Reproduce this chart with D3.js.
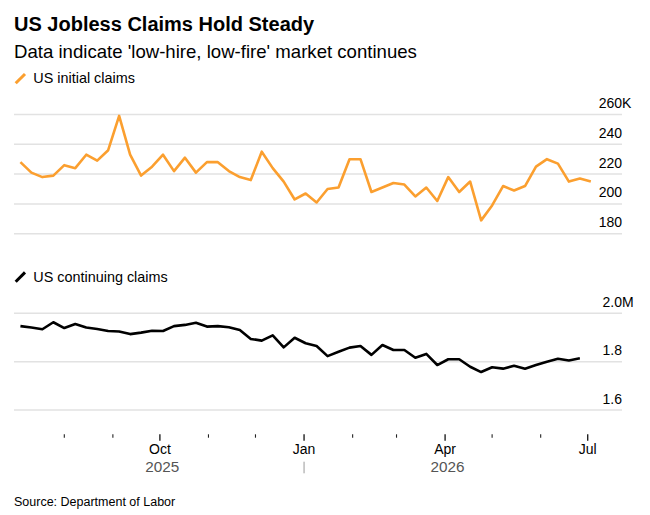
<!DOCTYPE html>
<html>
<head>
<meta charset="utf-8">
<script src="https://cdn.jsdelivr.net/npm/d3@7"></script>
<style>
	body { margin: 0; background: #fff; }
	svg { display: block; font-family: "Liberation Sans", Arial, sans-serif; }
</style>
</head>
<body>
<svg id="chart" width="650" height="515" viewBox="0 0 650 515"></svg>
<script>

// week dates (both series start together, continuing claims lag one week)
const WEEKS = [
	'2025-07-04', '2025-07-11', '2025-07-18', '2025-07-25', '2025-08-01', '2025-08-08', '2025-08-15',
	'2025-08-22', '2025-08-29', '2025-09-05', '2025-09-12', '2025-09-19', '2025-09-26', '2025-10-03',
	'2025-10-10', '2025-10-17', '2025-10-24', '2025-10-31', '2025-11-07', '2025-11-14', '2025-11-21',
	'2025-11-28', '2025-12-05', '2025-12-12', '2025-12-19', '2025-12-26', '2026-01-02', '2026-01-09',
	'2026-01-16', '2026-01-23', '2026-01-30', '2026-02-06', '2026-02-13', '2026-02-20', '2026-02-27',
	'2026-03-06', '2026-03-13', '2026-03-20', '2026-03-27', '2026-04-03', '2026-04-10', '2026-04-17',
	'2026-04-24', '2026-05-01', '2026-05-08', '2026-05-15', '2026-05-22', '2026-05-29', '2026-06-05',
	'2026-06-12', '2026-06-19', '2026-06-26', '2026-07-03'
];

// thousands
const INITIAL_CLAIMS = [
	228, 221, 218, 219, 226, 224, 233, 229, 236, 259,
	233, 219, 225, 233, 222, 231, 221, 228, 228, 222,
	218, 216, 235, 224, 215, 203, 207, 201, 210, 211,
	230, 230, 208, 211, 214, 213, 205, 211, 202, 218,
	208, 215, 189, 199, 212, 209, 212, 225, 230, 227,
	215, 217, 215
];

// millions
const CONTINUING_CLAIMS = [
	1.947, 1.941, 1.934, 1.963, 1.939, 1.956, 1.941, 1.935, 1.927, 1.925,
	1.914, 1.920, 1.928, 1.927, 1.947, 1.952, 1.961, 1.945, 1.947, 1.942,
	1.931, 1.894, 1.887, 1.909, 1.859, 1.899, 1.876, 1.865, 1.823, 1.841,
	1.858, 1.865, 1.828, 1.869, 1.848, 1.848, 1.816, 1.832, 1.786, 1.810,
	1.810, 1.779, 1.757, 1.777, 1.771, 1.783, 1.771, 1.786, 1.800, 1.812,
	1.805, 1.814
];

const INITIAL_TICKS = [180, 200, 220, 240, 260];
const CONTINUING_TICKS = [1.6, 1.8, 2.0];
const MAJOR_MONTHS = ['Oct', 'Jan', 'Apr', 'Jul'];
const YEARS = [2025, 2026];

const ORANGE = '#fb9f2f';
const GRID = '#e2e2e2';

const parse = d3.timeParse('%Y-%m-%d');
const dates = WEEKS.map(parse);

const svg = d3.select('#chart');

const x = d3.scaleTime()
	.domain([new Date(2025, 7, 1), new Date(2026, 6, 1)])
	.range([64.3, 587.7]);

const grid_left = 14, grid_right = 622;

// headings
svg.append('text')
	.attr('x', 14).attr('y', 30.7)
	.style('font-size', '20px').style('font-weight', 'bold')
	.text('US Jobless Claims Hold Steady');

svg.append('text')
	.attr('x', 14).attr('y', 58.3)
	.style('font-size', '18.6px')
	.text("Data indicate 'low-hire, low-fire' market continues");

function legend(y, color, label) {
	svg.append('line')
		.attr('x1', 15.7).attr('y1', y)
		.attr('x2', 25).attr('y2', y - 9.3)
		.attr('stroke', color).attr('stroke-width', 3);
	svg.append('text')
		.attr('x', 33.3).attr('y', y)
		.style('font-size', '14.4px')
		.text(label);
}

function panel(values, ticks, y_range, color, suffix, fmt) {
	const y = d3.scaleLinear()
		.domain([ticks[0], ticks[ticks.length - 1]])
		.range(y_range);

	const g = svg.append('g');

	g.selectAll('.grid')
		.data(ticks)
		.enter()
		.append('line')
			.attr('x1', grid_left).attr('x2', grid_right)
			.attr('y1', d => y(d)).attr('y2', d => y(d))
			.attr('stroke', GRID).attr('stroke-width', 1.5);

	const labels = g.selectAll('.ylab')
		.data(ticks)
		.enter()
		.append('text')
			.attr('x', grid_right)
			.attr('y', d => y(d) - 6.5)
			.attr('text-anchor', 'end')
			.style('font-size', '14px')
			.text(d => fmt(d));

	// the unit hangs past the right edge on the top label
	g.append('text')
		.attr('x', grid_right)
		.attr('y', y(ticks[ticks.length - 1]) - 6.5)
		.style('font-size', '14px')
		.text(suffix);

	const line = d3.line()
		.x((d, i) => x(dates[i]))
		.y(d => y(d));

	g.append('path')
		.datum(values)
		.attr('d', line)
		.attr('fill', 'none')
		.attr('stroke', color)
		.attr('stroke-width', 2.6)
		.attr('stroke-linejoin', 'round');
}

legend(83.3, ORANGE, 'US initial claims');
panel(INITIAL_CLAIMS, INITIAL_TICKS, [233.8, 114.4], ORANGE, 'K', d => d);

legend(281.7, '#000', 'US continuing claims');
panel(CONTINUING_CLAIMS, CONTINUING_TICKS, [410, 313.3], '#000', 'M', d => d.toFixed(1));

// x axis
const months = d3.timeMonth.range(new Date(2025, 7, 1), new Date(2026, 6, 2));
const month_name = d3.timeFormat('%b');
const is_major = d => MAJOR_MONTHS.includes(month_name(d));

const axis = svg.append('g');

axis.selectAll('.tick')
	.data(months)
	.enter()
	.append('line')
		.attr('x1', d => x(d)).attr('x2', d => x(d))
		.attr('y1', 434.3)
		.attr('y2', d => is_major(d) ? 440.7 : 437.7)
		.attr('stroke', '#222')
		.attr('stroke-width', d => is_major(d) ? 1.4 : 1.1);

axis.selectAll('.mlab')
	.data(months.filter(is_major))
	.enter()
	.append('text')
		.attr('x', d => x(d))
		.attr('y', 454.3)
		.attr('text-anchor', 'middle')
		.style('font-size', '14px')
		.text(d => month_name(d));

// years centred on the part of the data inside each one
const jan = new Date(2026, 0, 1);
const year_span = [[dates[0], jan], [jan, dates[dates.length - 1]]];

axis.selectAll('.ylab')
	.data(YEARS)
	.enter()
	.append('text')
		.attr('x', (d, i) => (x(year_span[i][0]) + x(year_span[i][1])) / 2)
		.attr('y', 472)
		.attr('text-anchor', 'middle')
		.attr('fill', '#555')
		.style('font-size', '15.3px')
		.text(d => d);

axis.append('line')
	.attr('x1', x(jan)).attr('x2', x(jan))
	.attr('y1', 461.7).attr('y2', 473.3)
	.attr('stroke', '#999').attr('stroke-width', 1);

svg.append('text')
	.attr('x', 14).attr('y', 505.7)
	.style('font-size', '12.5px')
	.text('Source: Department of Labor');

</script>
</body>
</html>
